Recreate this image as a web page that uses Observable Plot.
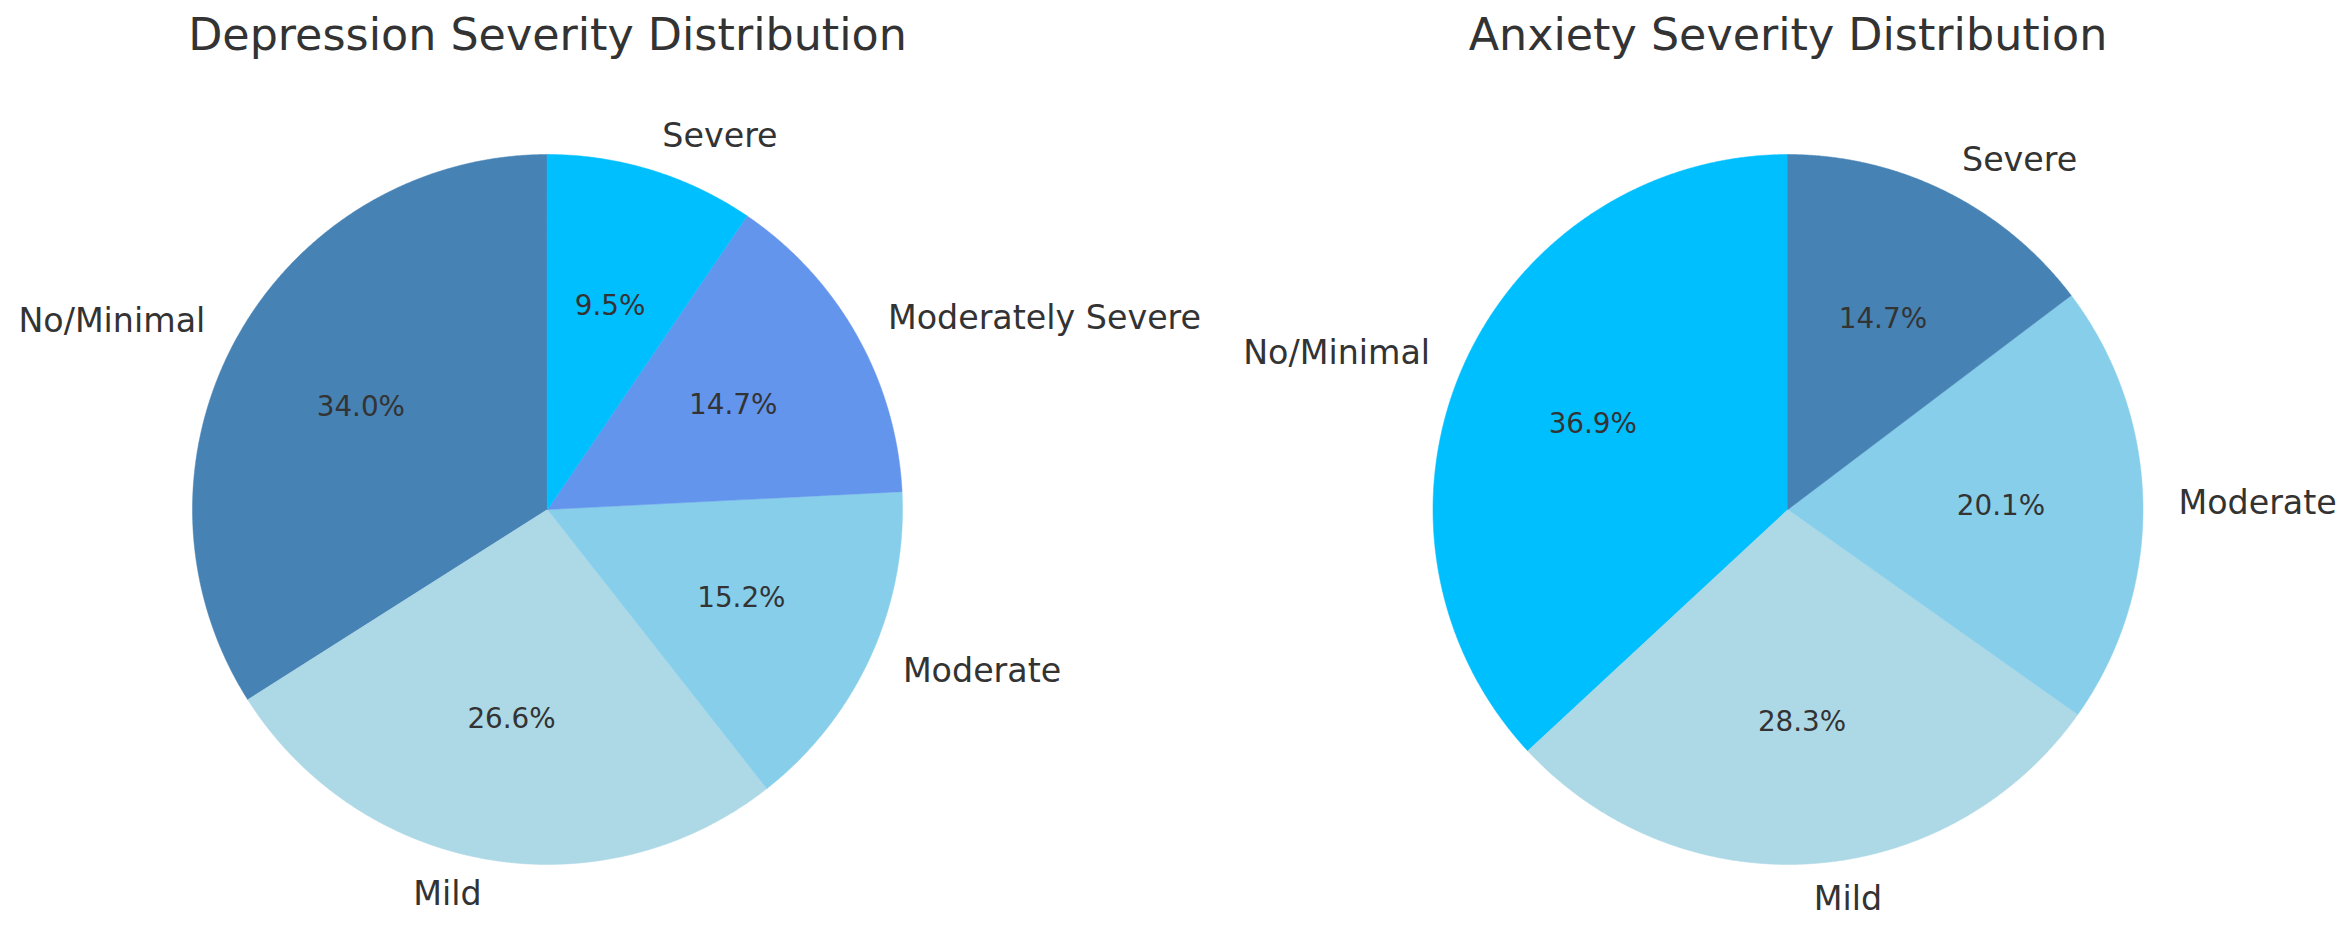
<!DOCTYPE html>
<html><head><meta charset="utf-8">
<script src="https://cdn.jsdelivr.net/npm/d3@7"></script>
<script src="https://cdn.jsdelivr.net/npm/@observablehq/plot@0.6"></script>
<style>body{margin:0;background:#fff} #wrap{display:flex;width:2352px;height:928px;background:#fff} #wrap svg{overflow:visible}</style>
</head><body><div id="wrap"></div>
<script>
const depLabels = ["No/Minimal", "Mild", "Moderate", "Moderately Severe", "Severe"];
const depValues = [34.0, 26.6, 15.2, 14.7, 9.5];
const depColors = ["#4682B4", "#ADD8E6", "#87CEEB", "#6495ED", "#00BFFF"];
const anxLabels = ["No/Minimal", "Mild", "Moderate", "Severe"];
const anxValues = [36.9, 28.3, 20.1, 14.7];
const anxColors = ["#00BFFF", "#ADD8E6", "#87CEEB", "#4682B4"];
const titles = ["Depression Severity Distribution", "Anxiety Severity Distribution"];

const TEXT = "#333333";

function pie(title, labels, values, colors, xDomain) {
  const total = d3.sum(values);
  let a = Math.PI / 2;
  const wedges = [], pts = [];
  labels.forEach((label, i) => {
    const span = values[i] / total * 2 * Math.PI;
    const a0 = a, a1 = a + span; a = a1;
    const n = Math.max(2, Math.ceil(span / 0.004));
    pts.push({label, color: colors[i], x: 0, y: 0});
    for (let k = 0; k <= n; k++) {
      const t = a0 + span * k / n;
      pts.push({label, color: colors[i], x: Math.cos(t), y: Math.sin(t)});
    }
    const m = (a0 + a1) / 2;
    wedges.push({
      label,
      pct: (values[i] / total * 100).toFixed(1) + "%",
      lx: 1.1 * Math.cos(m), ly: 1.1 * Math.sin(m),
      px: 0.6 * Math.cos(m), py: 0.6 * Math.sin(m)
    });
  });
  return Plot.plot({
    width: 1176, height: 928,
    margin: 0,
    x: {domain: xDomain, axis: null},
    y: {domain: [-1.1803, 1.4338], axis: null},
    color: {type: "identity"},
    style: {fontFamily: "DejaVu Sans", background: "transparent", color: TEXT, overflow: "visible"},
    marks: [
      Plot.line(pts, {x: "x", y: "y", z: "label", fill: "color", stroke: "color", strokeWidth: 0.5, curve: "linear-closed"}),
      Plot.text(wedges.filter(d => d.lx > 0), {x: "lx", y: "ly", text: "label", textAnchor: "start", lineAnchor: "middle", fontSize: 33.3, fill: TEXT}),
      Plot.text(wedges.filter(d => d.lx <= 0), {x: "lx", y: "ly", text: "label", textAnchor: "end", lineAnchor: "middle", fontSize: 33.3, fill: TEXT}),
      Plot.text(wedges, {x: "px", y: "py", text: "pct", textAnchor: "middle", lineAnchor: "middle", fontSize: 27.8, fill: TEXT}),
      Plot.text([{t: title, x: 0}], {x: "x", text: "t", frameAnchor: "top", dy: 35, lineAnchor: "middle", fontSize: 44.4, fill: TEXT})
    ]
  });
}

const wrap = document.getElementById("wrap");
wrap.appendChild(pie(titles[0], depLabels, depValues, depColors, [-547 / 355, (1176 - 547) / 355]));
wrap.appendChild(pie(titles[1], anxLabels, anxValues, anxColors, [-(1787.5 - 1176) / 355, (2352 - 1787.5) / 355]));
</script>
</body></html>
